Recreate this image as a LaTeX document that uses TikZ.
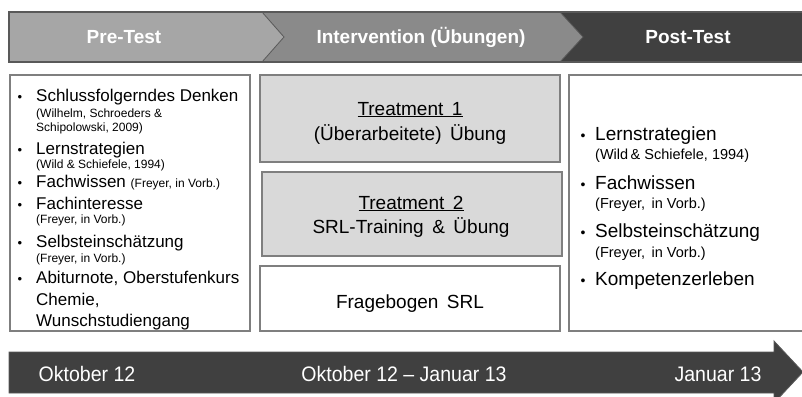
\documentclass[tikz,border=0pt]{standalone}
\usepackage{fontspec}
\setmainfont{Liberation Sans}
\begin{document}
\begin{tikzpicture}[x=1pt,y=-1pt,
  phase/.style={text=white,font=\fontsize{19}{22}\selectfont\bfseries,inner sep=0pt},
  panel/.style={draw=boxgray,line width=1.5pt},
  itemL/.style={font=\fontsize{17}{20}\selectfont,anchor=base west,inner sep=0pt},
  citeL/.style={font=\fontsize{12}{14}\selectfont,anchor=base west,inner sep=0pt},
  itemR/.style={font=\fontsize{19}{22}\selectfont,anchor=base west,inner sep=0pt},
  citeR/.style={font=\fontsize{14.5}{17}\selectfont,anchor=base west,inner sep=0pt},
  bulL/.style={font=\fontsize{13}{15}\selectfont,anchor=base,inner sep=0pt},
  bulR/.style={font=\fontsize{14}{16}\selectfont,anchor=base,inner sep=0pt},
  mid/.style={font=\fontsize{19}{22}\selectfont,anchor=base,inner sep=0pt},
  datum/.style={text=white,font=\fontsize{21}{24}\selectfont,anchor=base,inner sep=0pt}]
\definecolor{boxgray}{HTML}{7F7F7F}
\definecolor{preG}{HTML}{A6A6A6}
\definecolor{midG}{HTML}{8A8A8A}
\definecolor{darkG}{HTML}{404040}
\definecolor{edgeG}{HTML}{595959}
\definecolor{treatG}{HTML}{D9D9D9}
\newcommand{\gap}{\hspace{0.45em}}
\useasboundingbox (0,0) rectangle (802,396);
\clip (0,0) rectangle (802,396);

% phase banner
\fill[preG] (9,12) -- (262,12) -- (284,37) -- (262,62) -- (9,62) -- cycle;
\fill[midG] (262,12) -- (560,12) -- (583,37) -- (560,62) -- (262,62) -- (284,37) -- cycle;
\fill[darkG] (560,12) -- (803,12) -- (803,62) -- (560,62) -- (583,37) -- cycle;
\draw[edgeG,line width=0.8pt] (262,12) -- (284,37) -- (262,62);
\draw[edgeG,line width=0.8pt] (560,12) -- (583,37) -- (560,62);
\draw[edgeG,line width=1.5pt] (9,12) rectangle (803,62);
\node[phase] (pre) at (124,37) {Pre-Test};
\node[phase] (interv) at (421,37) {Intervention (Übungen)};
\node[phase] (post) at (688,37) {Post-Test};

% content panels
\draw[panel] (10,75) rectangle (250,331);
\draw[panel,fill=treatG] (260,75) rectangle (560,162);
\draw[panel,fill=treatG] (262,172) rectangle (562,256);
\draw[panel] (260,266) rectangle (560,331);
\draw[panel] (569,75) rectangle (804,331);

% pre-test measures
\node[bulL] (lb1) at (20,101) {•};
\node[itemL] (l1) at (36,101) {Schlussfolgerndes Denken};
\node[citeL] (l1a) at (36,117) {(Wilhelm, Schroeders \&};
\node[citeL] (l1b) at (36,131) {Schipolowski, 2009)};
\node[bulL] (lb2) at (20,154) {•};
\node[itemL] (l2) at (36,154) {Lernstrategien};
\node[citeL] (l2a) at (36,168) {(Wild \& Schiefele, 1994)};
\node[bulL] (lb3) at (20,187) {•};
\node[itemL] (l3) at (36,187) {Fachwissen {\fontsize{12}{14}\selectfont(Freyer, in Vorb.)}};
\node[bulL] (lb4) at (20,209) {•};
\node[itemL] (l4) at (36,209) {Fachinteresse};
\node[citeL] (l4a) at (36,223) {(Freyer, in Vorb.)};
\node[bulL] (lb5) at (20,247) {•};
\node[itemL] (l5) at (36,247) {Selbsteinschätzung};
\node[citeL] (l5a) at (36,262) {(Freyer, in Vorb.)};
\node[bulL] (lb6) at (20,283) {•};
\node[itemL] (l6) at (36,283) {Abiturnote, Oberstufenkurs};
\node[itemL] (l6a) at (36,305) {Chemie,};
\node[itemL] (l6b) at (36,326) {Wunschstudiengang};

% intervention groups
\node[mid] (t1) at (410,115) {\underline{Treatment\gap 1}};
\node[mid] (t1a) at (410,140) {(Überarbeitete)\gap Übung};
\node[mid] (t2) at (411,209) {\underline{Treatment\gap 2}};
\node[mid] (t2a) at (411,233) {SRL-Training\gap\&\gap Übung};
\node[mid] (fb) at (410,308) {Fragebogen\gap SRL};

% post-test measures
\node[bulR] (rb1) at (583,140) {•};
\node[itemR] (r1) at (595,140) {Lernstrategien};
\node[citeR] (r1a) at (595,159) {(Wild\,\& Schiefele, 1994)};
\node[bulR] (rb2) at (583,189) {•};
\node[itemR] (r2) at (595,189) {Fachwissen};
\node[citeR] (r2a) at (595,208) {(Freyer,\gap in Vorb.)};
\node[bulR] (rb3) at (583,237) {•};
\node[itemR] (r3) at (595,237) {Selbsteinschätzung};
\node[citeR] (r3a) at (595,257) {(Freyer,\gap in Vorb.)};
\node[bulR] (rb4) at (583,285) {•};
\node[itemR] (r4) at (595,285) {Kompetenzerleben};

% time line arrow
\fill[darkG,draw=edgeG,line width=0.8pt] (9,352) -- (774,352) -- (774,341) -- (803,372) -- (774,403) -- (774,393) -- (9,393) -- cycle;
\node[datum] (d1) at (87,381) {\scalebox{0.93}[1]{Oktober 12}};
\node[datum] (d2) at (404,381) {\scalebox{0.93}[1]{Oktober 12 – Januar 13}};
\node[datum] (d3) at (718,381) {\scalebox{0.93}[1]{Januar 13}};
\end{tikzpicture}
\end{document}
